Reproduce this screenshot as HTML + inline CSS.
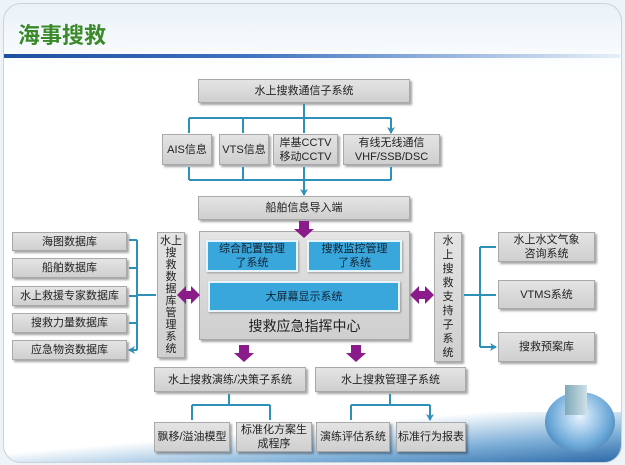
<!DOCTYPE html><html><head><meta charset="utf-8"><style>
body{margin:0;width:625px;height:465px;overflow:hidden;background:#eef3f7;font-family:"Liberation Sans","Noto Sans CJK SC",sans-serif;position:relative}
.panel{position:absolute;left:3px;top:3px;width:617px;height:458px;border:1px solid #c9d3dc;border-radius:18px;background:linear-gradient(#e9f2f8 0,#fff 70px,#fff 100%);overflow:hidden}
.b{position:absolute;background:linear-gradient(#e4e4e4,#cfcfcf);border:1px solid #a9a9a9;box-shadow:2px 2px 2px rgba(0,0,0,.35);display:flex;align-items:center;justify-content:center;text-align:center;font-size:11px;color:#222;line-height:14px;box-sizing:border-box}
.bl{position:absolute;background:#3aa7dc;border:2px solid #e8f4fb;box-shadow:1px 1px 2px rgba(0,0,0,.3);display:flex;align-items:center;justify-content:center;text-align:center;font-size:11px;color:#123;line-height:14px;box-sizing:border-box}
</style></head><body>
<div class="panel">
<div style="position:absolute;left:0;right:0;bottom:0;height:50px;background:linear-gradient(175deg,rgba(255,255,255,0) 40%,#7fb0d8 72%,#2d6aa8 100%)"></div>
</div>
<div style="position:absolute;left:18px;top:18px;font-size:22px;font-weight:bold;color:#3a8a2a;font-family:'Noto Sans CJK SC',sans-serif">海事搜救</div>
<div style="position:absolute;left:4px;top:54px;width:616px;height:4px;background:linear-gradient(90deg,#1f4fa0,#3f72c0 40%,rgba(200,220,240,.4))"></div>
<div style="position:absolute;left:545px;top:392px;width:70px;height:60px;border-radius:50%;background:radial-gradient(circle at 50% 40%,#e8f4ff,#6aa8d8 60%,#2b5f90)"></div>
<div style="position:absolute;left:565px;top:385px;width:22px;height:30px;background:linear-gradient(90deg,#7fa9b8,#cfe0e8)"></div>
<div class="b" style="left:198px;top:79px;width:212px;height:24px">水上搜救通信子系统</div>
<div class="b" style="left:162px;top:134px;width:50px;height:31px">AIS信息</div>
<div class="b" style="left:219px;top:134px;width:50px;height:31px">VTS信息</div>
<div class="b" style="left:273px;top:134px;width:65px;height:31px">岸基CCTV<br>移动CCTV</div>
<div class="b" style="left:343px;top:134px;width:97px;height:31px">有线无线通信<br>VHF/SSB/DSC</div>
<div class="b" style="left:198px;top:196px;width:212px;height:24px">船舶信息导入端</div>
<div class="b" style="left:12px;top:232px;width:115px;height:19px">海图数据库</div>
<div class="b" style="left:12px;top:258px;width:115px;height:20px">船舶数据库</div>
<div class="b" style="left:12px;top:286px;width:115px;height:20px">水上救援专家数据库</div>
<div class="b" style="left:12px;top:313px;width:115px;height:20px">搜救力量数据库</div>
<div class="b" style="left:12px;top:340px;width:115px;height:20px">应急物资数据库</div>
<div class="b" style="left:157px;top:232px;width:28px;height:126px;line-height:12px;font-size:11px">水上<br>搜<br>救<br>数<br>据<br>库<br>管<br>理<br>系<br>统</div>
<div class="b" style="left:199px;top:231px;width:211px;height:109px;align-items:flex-end;padding-bottom:6px;font-size:14px">搜救应急指挥中心</div>
<div class="bl" style="left:206px;top:240px;width:92px;height:32px">综合配置管理<br>了系统</div>
<div class="bl" style="left:307px;top:240px;width:95px;height:32px">搜救监控管理<br>了系统</div>
<div class="bl" style="left:208px;top:281px;width:192px;height:31px">大屏幕显示系统</div>
<div class="b" style="left:434px;top:232px;width:28px;height:130px;line-height:14px">水<br>上<br>搜<br>救<br>支<br>持<br>子<br>系<br>统</div>
<div class="b" style="left:498px;top:232px;width:97px;height:30px">水上水文气象<br>咨询系统</div>
<div class="b" style="left:498px;top:280px;width:97px;height:29px">VTMS系统</div>
<div class="b" style="left:498px;top:332px;width:97px;height:30px">搜救预案库</div>
<div class="b" style="left:154px;top:367px;width:152px;height:25px">水上搜救演练/决策子系统</div>
<div class="b" style="left:315px;top:367px;width:151px;height:25px">水上搜救管理子系统</div>
<div class="b" style="left:154px;top:422px;width:76px;height:30px">飘移/溢油模型</div>
<div class="b" style="left:236px;top:422px;width:76px;height:30px">标准化方案生<br>成程序</div>
<div class="b" style="left:316px;top:422px;width:74px;height:30px">演练评估系统</div>
<div class="b" style="left:396px;top:422px;width:70px;height:30px">标准行为报表</div>
<svg width="625" height="465" style="position:absolute;left:0;top:0">
<defs><marker id="a" markerWidth="8" markerHeight="8" refX="6" refY="4" orient="auto" markerUnits="userSpaceOnUse"><path d="M0,0 L7,4 L0,8 L2,4z" fill="#2e8fb8"/></marker></defs>
<g stroke="#2e8fb8" stroke-width="2" fill="none">
<path d="M304 104V118M189 118H391"/>
<path d="M189 118V133M243 118V133M304 118V133M391 118V133" marker-end="url(#a)"/>
<path d="M189 167V180M243 167V180M304 167V180M391 167V180M189 180H391"/>
<path d="M304 180V195" marker-end="url(#a)"/>
<path d="M156 295H137M137 240V350"/>
<path d="M137 240H129M137 268H129M137 296H129M137 323H129M137 350H129" marker-end="url(#a)"/>
<path d="M464 295H480M480 247V347"/>
<path d="M480 247H496M480 295H496M480 347H496" marker-end="url(#a)"/>
<path d="M229 394V405M192 405H270M390 394V405M351 405H430"/>
<path d="M192 405V420M270 405V420M351 405V420M430 405V420" marker-end="url(#a)"/>
</g>
<g fill="#8b1a8b">
<path d="M299 221h10v8h5l-10 9-10-9h5z"/>
<path d="M239 345h10v8h5l-10 9-10-9h5z"/>
<path d="M351 345h10v8h5l-10 9-10-9h5z"/>
<path d="M177 295l9-9v5h5v-5l9 9-9 9v-5h-5v5z"/>
<path d="M410 295l9-9v5h6v-5l9 9-9 9v-5h-6v5z"/>
</g>
</svg>
</body></html>
